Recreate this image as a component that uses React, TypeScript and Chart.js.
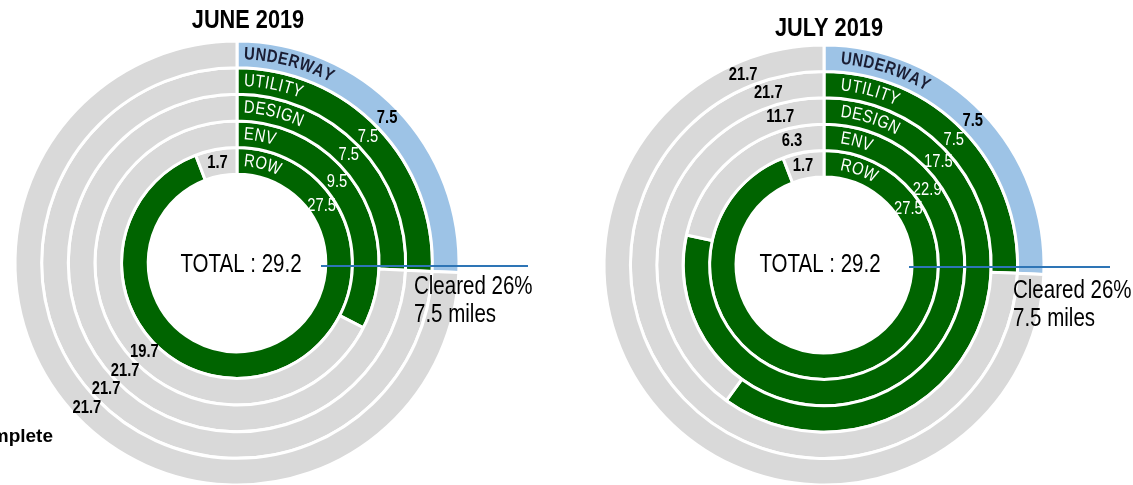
import React, { useEffect, useRef } from 'react';
import { Chart, registerables } from 'chart.js';

Chart.register(...registerables);

// ---- data ----
const rings = ['UNDERWAY', 'UTILITY', 'DESIGN', 'ENV', 'ROW'];
const segments = ['Complete', 'Remaining'];
const juneDone = [7.5, 7.5, 7.5, 9.5, 27.5];
const juneRemaining = [21.7, 21.7, 21.7, 19.7, 1.7];
const julyDone = [7.5, 7.5, 17.5, 22.9, 27.5];
const julyRemaining = [21.7, 21.7, 11.7, 6.3, 1.7];
const totalMiles = 29.2;
const clearedMiles = 7.5;
const titles = ['JUNE 2019', 'JULY 2019'];

// ---- styles ----
const GREEN = '#006400';
const BLUE = '#9DC3E6';
const GRAY = '#D9D9D9';
const LINE = '#2E75B6';
const DARK = '#1a1d33';
const FONT = "'Liberation Sans', Arial, sans-serif";
const SX = 0.82; // horizontal condensing (Arial Narrow look)
const H = 500;

type Panel = {
  title: string;
  done: number[];
  remaining: number[];
  left: number;
  width: number;
  cx: number;
  cy: number;
  R: number;
  doneAngles: number[];
  remAngles: number[];
  nameStart: number;
  titleDx: number;
  titleBase: number;
  totalDx: number;
  totalDy: number;
  lineDy: number;
  lineX0: number;
  lineX1: number;
  clearedX: number;
  clearedY: number;
  showComplete: boolean;
};

const panels: Panel[] = [
  {
    title: titles[0], done: juneDone, remaining: juneRemaining,
    left: 0, width: 566, cx: 237, cy: 263, R: 222,
    doneAngles: [46, 46, 46, 51, 56], remAngles: [226, 226, 226, 226, 349],
    nameStart: 7, titleDx: 11, titleBase: 28, totalDx: 4, totalDy: 2,
    lineDy: 3, lineX0: 84, lineX1: 291, clearedX: 177, clearedY: 31, showComplete: true,
  },
  {
    title: titles[1], done: julyDone, remaining: julyRemaining,
    left: 566, width: 567, cx: 258, cy: 265, R: 220,
    doneAngles: [46, 46, 48, 54, 56.5], remAngles: [337, 342, 343.5, 345.5, 348],
    nameStart: 17, titleDx: 5, titleBase: 36, totalDx: -4, totalDy: 0,
    lineDy: 2, lineX0: 85, lineX1: 286, clearedX: 189, clearedY: 33, showComplete: false,
  },
];

function polar(x: number, y: number, r: number, deg: number) {
  const a = (deg * Math.PI) / 180 - Math.PI / 2;
  return [x + r * Math.cos(a), y + r * Math.sin(a)];
}

function narrowText(ctx: CanvasRenderingContext2D, text: string, x: number, y: number) {
  ctx.save();
  ctx.translate(x, y);
  ctx.scale(SX, 1);
  ctx.fillText(text, 0, 0);
  ctx.restore();
}

function drawArcText(ctx: CanvasRenderingContext2D, text: string, cx: number, cy: number, r: number,
  startAngle: number, font: string, color: string, spacing: number) {
  ctx.save();
  ctx.font = font;
  ctx.fillStyle = color;
  ctx.textAlign = 'center';
  ctx.textBaseline = 'middle';
  let a = startAngle;
  for (const ch of text) {
    const w = ctx.measureText(ch).width * SX;
    const mid = a + w / 2 / r;
    ctx.save();
    ctx.translate(cx + r * Math.cos(mid), cy + r * Math.sin(mid));
    ctx.rotate(mid + Math.PI / 2);
    ctx.scale(SX, 1);
    ctx.fillText(ch, 0, 0);
    ctx.restore();
    a += (w + spacing) / r;
  }
  ctx.restore();
}

function makeOverlay(p: Panel) {
  return {
    id: 'overlay',
    afterDraw(chart: any) {
      const ctx: CanvasRenderingContext2D = chart.ctx;
      const outer = chart.getDatasetMeta(0).data[0];
      const cx = outer.x;
      const cy = outer.y;

      // ring names along the arcs
      rings.forEach((name, i) => {
        const arc = chart.getDatasetMeta(i).data[0];
        const r = (arc.innerRadius + arc.outerRadius) / 2;
        const start = arc.startAngle + p.nameStart / r;
        const font = i === 0 ? `bold 18px ${FONT}` : `18px ${FONT}`;
        drawArcText(ctx, name, cx, cy, r, start, font, i === 0 ? DARK : '#ffffff', 0.8);
      });

      // value labels
      ctx.save();
      ctx.textAlign = 'center';
      ctx.textBaseline = 'middle';
      rings.forEach((_, i) => {
        const meta = chart.getDatasetMeta(i);
        const values = chart.data.datasets[i].data as number[];
        [0, 1].forEach((j) => {
          const arc = meta.data[j];
          const r = (arc.innerRadius + arc.outerRadius) / 2;
          const ang = j === 0 ? p.doneAngles[i] : p.remAngles[i];
          const [x, y] = polar(cx, cy, r, ang);
          const onGreen = j === 0 && i > 0;
          ctx.font = onGreen ? `18px ${FONT}` : `bold 18px ${FONT}`;
          ctx.fillStyle = onGreen ? '#ffffff' : '#000000';
          narrowText(ctx, values[j].toFixed(1), x, y);
        });
      });
      ctx.restore();

      ctx.save();
      ctx.fillStyle = '#000';
      ctx.textAlign = 'center';
      ctx.textBaseline = 'alphabetic';
      ctx.font = `bold 26.5px ${FONT}`;
      narrowText(ctx, p.title, cx + p.titleDx, p.titleBase);

      ctx.textBaseline = 'middle';
      ctx.font = `25px ${FONT}`;
      narrowText(ctx, `TOTAL : ${totalMiles.toFixed(1)}`, cx + p.totalDx, cy + p.totalDy);

      const ly = cy + p.lineDy;
      ctx.strokeStyle = LINE;
      ctx.lineWidth = 2;
      ctx.beginPath();
      ctx.moveTo(cx + p.lineX0, ly);
      ctx.lineTo(cx + p.lineX1, ly);
      ctx.stroke();

      ctx.textAlign = 'left';
      ctx.textBaseline = 'alphabetic';
      ctx.font = `25px ${FONT}`;
      const pct = Math.round((clearedMiles / totalMiles) * 100);
      narrowText(ctx, `Cleared ${pct}%`, cx + p.clearedX, cy + p.clearedY);
      narrowText(ctx, `${clearedMiles.toFixed(1)} miles`, cx + p.clearedX, cy + p.clearedY + 28);

      if (p.showComplete) {
        ctx.textAlign = 'right';
        ctx.font = `bold 19px ${FONT}`;
        ctx.fillText(segments[0], 53, 442);
      }
      ctx.restore();
    },
  };
}

function DonutPanel({ p }: { p: Panel }) {
  const ref = useRef<HTMLCanvasElement | null>(null);
  useEffect(() => {
    const canvas = ref.current;
    if (!canvas) return;
    const half = p.R + 5;
    const datasets = rings.map((name, i) => ({
      label: name,
      data: [p.done[i], p.remaining[i]],
      backgroundColor: [i === 0 ? BLUE : GREEN, GRAY],
      borderColor: '#ffffff',
      borderWidth: 3,
      hoverOffset: 0,
    }));
    const chart = new Chart(canvas, {
      type: 'doughnut',
      data: { labels: segments, datasets },
      options: {
        animation: false,
        responsive: false,
        maintainAspectRatio: false,
        events: [],
        radius: p.R,
        cutout: '40%',
        rotation: 0,
        circumference: 360,
        layout: {
          padding: {
            left: p.cx - half,
            right: p.width - (p.cx + half),
            top: p.cy - half,
            bottom: H - (p.cy + half),
          },
        },
        plugins: {
          legend: { display: false },
          tooltip: { enabled: false },
          title: { display: false },
        },
      } as any,
      plugins: [makeOverlay(p)],
    });
    return () => chart.destroy();
  }, [p]);
  return (
    <canvas
      ref={ref}
      width={p.width}
      height={H}
      style={{ position: 'absolute', left: p.left, top: 0, width: p.width, height: H, display: 'block' }}
    />
  );
}

export default function App() {
  return (
    <div
      style={{
        position: 'absolute',
        left: 0,
        top: 0,
        width: 1133,
        height: 485,
        overflow: 'hidden',
        background: '#ffffff',
      }}
    >
      {panels.map((p, i) => (
        <DonutPanel key={i} p={p} />
      ))}
    </div>
  );
}
